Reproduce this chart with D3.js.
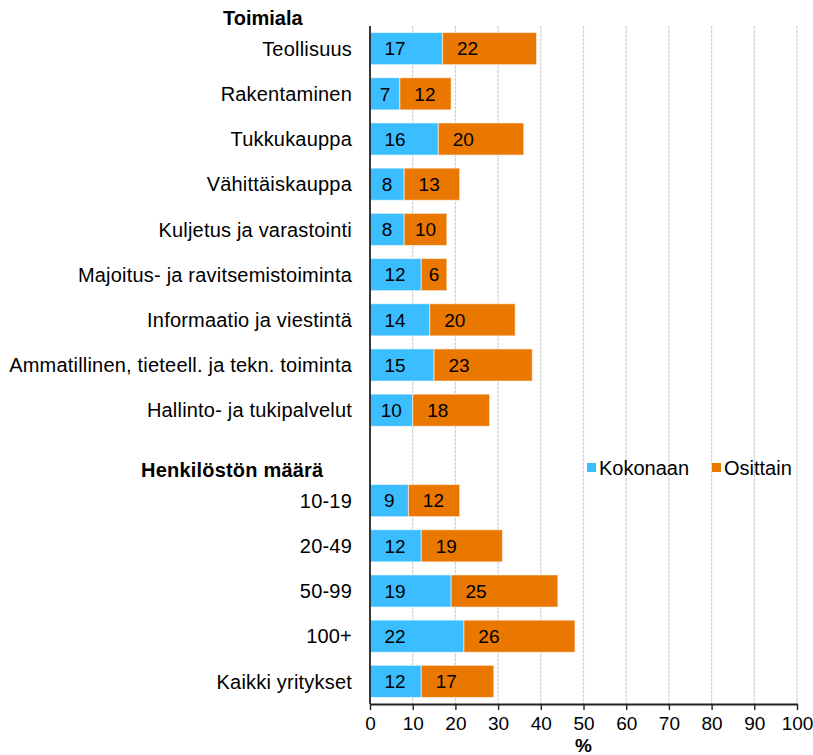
<!DOCTYPE html>
<html>
<head>
<meta charset="utf-8">
<script src="https://cdn.jsdelivr.net/npm/d3@7"></script>
<style>
  body { margin: 0; background: #fff; overflow: hidden; }
  svg text { font-family: "Liberation Sans", Arial, sans-serif; fill: #000; }
</style>
</head>
<body>
<div id="chart"></div>
<script>
const categories = [
    "Teollisuus", "Rakentaminen", "Tukkukauppa", "Vähittäiskauppa",
    "Kuljetus ja varastointi", "Majoitus- ja ravitsemistoiminta",
    "Informaatio ja viestintä", "Ammatillinen, tieteell. ja tekn. toiminta",
    "Hallinto- ja tukipalvelut", "Henkilöstön määrä",
    "10-19", "20-49", "50-99", "100+", "Kaikki yritykset"
];
const headers = ["Henkilöstön määrä"];
const kokonaan = [17, 7, 16, 8, 8, 12, 14, 15, 10, null, 9, 12, 19, 22, 12];
const osittain = [22, 12, 20, 13, 10, 6, 20, 23, 18, null, 12, 19, 25, 26, 17];
const seriesNames = ["Kokonaan", "Osittain"];
const xTicks = [0, 10, 20, 30, 40, 50, 60, 70, 80, 90, 100];

const colors = ["#3abeff", "#e97700"];
const width = 813, height = 755;
const margin = { top: 26, left: 370, right: 16, bottom: 51 };

const svg = d3.select("#chart").append("svg")
    .attr("width", width)
    .attr("height", height);

const x = d3.scaleLinear()
    .domain([0, 100])
    .range([margin.left, width - margin.right]);

const y = d3.scaleBand()
    .domain(categories)
    .range([margin.top, height - margin.bottom])
    .paddingInner(0.29)
    .paddingOuter(0.145);

// gridlines
svg.append("g")
    .selectAll("line")
    .data(xTicks.slice(1))
    .enter()
    .append("line")
    .attr("x1", d => x(d))
    .attr("x2", d => x(d))
    .attr("y1", margin.top)
    .attr("y2", height - margin.bottom)
    .attr("stroke", "#cfcfcf")
    .attr("stroke-width", 1.2)
    .attr("stroke-dasharray", "3,1");

// bars
const rows = categories.map((cat, i) => ({ cat, a: kokonaan[i], b: osittain[i] }))
    .filter(row => row.a !== null);

const barGroup = svg.append("g");
rows.forEach(row => {
    const segments = [
        { start: 0, value: row.a, color: colors[0] },
        { start: row.a, value: row.b, color: colors[1] }
    ];
    segments.forEach(seg => {
        const x0 = x(seg.start), x1 = x(seg.start + seg.value);
        barGroup.append("rect")
            .attr("x", x0)
            .attr("y", y(row.cat))
            .attr("width", x1 - x0)
            .attr("height", y.bandwidth())
            .attr("fill", seg.color)
            .attr("stroke", "#ffffff")
            .attr("stroke-opacity", 0.55)
            .attr("stroke-width", 1);
        // labels sit near the base of each segment, as in the original
        barGroup.append("text")
            .attr("x", x0 + Math.min(25, (x1 - x0) / 2))
            .attr("y", y(row.cat) + y.bandwidth() / 2)
            .attr("dy", "0.36em")
            .attr("text-anchor", "middle")
            .style("font-size", "19px")
            .text(seg.value);
    });
});

// category labels
svg.append("g")
    .selectAll("text")
    .data(categories)
    .enter()
    .append("text")
    .attr("x", d => headers.includes(d) ? 141 : 352)
    .attr("y", d => y(d) + y.bandwidth() / 2 + (headers.includes(d) ? 14 : 0))
    .attr("dy", "0.36em")
    .attr("text-anchor", d => headers.includes(d) ? "start" : "end")
    .style("font-size", "20px")
    .style("letter-spacing", "0.2px")
    .style("font-weight", d => headers.includes(d) ? "bold" : "normal")
    .text(d => d);

svg.append("text")
    .attr("x", 223)
    .attr("y", 18)
    .attr("dy", "0.36em")
    .style("font-size", "20px")
    .style("font-weight", "bold")
    .text("Toimiala");

// axes
svg.append("line")
    .attr("x1", x(0)).attr("x2", x(0))
    .attr("y1", margin.top).attr("y2", height - margin.bottom)
    .attr("stroke", "#222")
    .attr("stroke-width", 1.8);

const xAxis = svg.append("g")
    .attr("transform", `translate(0,${height - margin.bottom})`)
    .call(d3.axisBottom(x).tickValues(xTicks).tickSize(6).tickPadding(7).tickSizeOuter(0));
xAxis.select(".domain").attr("stroke", "#222").attr("stroke-width", 1.8);
xAxis.selectAll(".tick line").attr("stroke", "#222").attr("stroke-width", 1.4);
xAxis.selectAll("text")
    .style("font-size", "19px")
    .style("font-family", "'Liberation Sans', Arial, sans-serif");

svg.append("text")
    .attr("x", x(50))
    .attr("y", 752)
    .attr("text-anchor", "middle")
    .style("font-size", "19px")
    .style("font-weight", "bold")
    .text("%");

// legend
const legend = svg.append("g")
    .selectAll("g")
    .data(seriesNames)
    .enter()
    .append("g")
    .attr("transform", (d, i) => `translate(${i === 0 ? 587 : 712}, 468)`);

legend.append("rect")
    .attr("x", 0)
    .attr("y", -5)
    .attr("width", 9)
    .attr("height", 9)
    .attr("fill", (d, i) => colors[i]);

legend.append("text")
    .attr("x", 12)
    .attr("y", 0)
    .attr("dy", "0.36em")
    .style("font-size", "20px")
    .text(d => d);
</script>
</body>
</html>
